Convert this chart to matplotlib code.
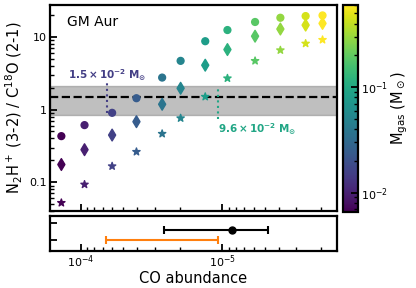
import numpy as np
import matplotlib
matplotlib.use("Agg")
import matplotlib.pyplot as plt
from matplotlib.colors import LogNorm
from matplotlib.ticker import FuncFormatter, LogLocator, NullFormatter

# model grid: CO abundance and gas mass for each column
co_abund = [1.37e-4, 9.4e-5, 6.0e-5, 4.04e-5, 2.66e-5, 1.97e-5,
            1.32e-5, 9.2e-6, 5.87e-6, 3.89e-6, 2.58e-6, 1.96e-6]
m_gas = [0.0066, 0.0098, 0.0159, 0.0241, 0.0378, 0.0519,
         0.0796, 0.117, 0.188, 0.291, 0.452, 0.603]

# line ratio N2H+ (3-2) / C18O (2-1) for the three model sets
ratio_circle = [0.43, 0.61, 0.90, 1.43, 2.75, 4.67, 8.7, 12.4, 16.0, 18.3, 19.3, 19.7]
ratio_diamond = [0.175, 0.28, 0.445, 0.68, 1.18, 1.96, 4.07, 6.68, 10.2, 12.8, 14.5, 15.3]
ratio_star = [0.052, 0.093, 0.166, 0.262, 0.464, 0.76, 1.50, 2.69, 4.67, 6.55, 8.09, 9.1]

# observed ratio and range
obs_ratio = 1.47
obs_lo, obs_hi = 0.85, 2.11

# mass where models meet the observation
m_low, x_low = 0.015, 6.55e-5
m_high, x_high = 0.096, 1.08e-5

# bottom panel: abundance constraints
lit_x, lit_lo, lit_hi = 8.6e-6, 4.72e-6, 2.57e-5
fit_lo, fit_hi = 1.07e-5, 6.59e-5

plt.rcParams["font.family"] = "DejaVu Sans"

fig = plt.figure(figsize=(4.16, 2.88), dpi=100)
ax = fig.add_axes([0.120, 0.267, 0.690, 0.716])
ax2 = fig.add_axes([0.120, 0.1295, 0.690, 0.1205])
cax = fig.add_axes([0.8245, 0.265, 0.036, 0.718])

norm = LogNorm(vmin=min(m_gas), vmax=max(m_gas))
cmap = plt.get_cmap("viridis")

ax.axhspan(obs_lo, obs_hi, color="gray", alpha=0.5, lw=1)
ax.axhline(obs_ratio, color="k", ls="--", lw=1.6)

sc = ax.scatter(co_abund, ratio_circle, c=m_gas, cmap=cmap, norm=norm, marker="o", s=24, zorder=3)
ax.scatter(co_abund, ratio_diamond, c=m_gas, cmap=cmap, norm=norm, marker="d", s=36, zorder=3)
ax.scatter(co_abund, ratio_star, c=m_gas, cmap=cmap, norm=norm, marker="*", s=30, zorder=3)

c1 = cmap(norm(m_low))
c2 = cmap(norm(m_high))
ax.plot([x_low, x_low], [0.90, 2.47], ls=":", color=c1, lw=1.5)
ax.plot([x_high, x_high], [0.73, 2.04], ls=":", color=c2, lw=1.5)
ax.text(x_low, 2.95, r"$\mathbf{1.5\times10^{-2}\ M_{\odot}}$", color=c1,
        fontsize=7.5, ha="center", va="center")
ax.text(x_high, 0.54, r"$\mathbf{9.6\times10^{-2}\ M_{\odot}}$", color=c2,
        fontsize=7.5, ha="left", va="center")
ax.text(0.059, 0.917, "GM Aur", transform=ax.transAxes, fontsize=10, ha="left", va="center")

xlim = (1.65e-4, 1.55e-6)
ax.set_xscale("log")
ax.set_yscale("log")
ax.set_xlim(xlim)
ax.set_ylim(0.04, 27.5)
ax.yaxis.set_major_formatter(FuncFormatter(lambda v, p: "{:g}".format(v)))
ax.xaxis.set_major_formatter(NullFormatter())
ax.xaxis.set_minor_formatter(NullFormatter())
ax.set_ylabel(r"N$_2$H$^+$ (3-2) / C$^{18}$O (2-1)", fontsize=10.5, labelpad=3)

# bottom panel
ax2.errorbar([lit_x], [0.6], xerr=[[lit_x - lit_lo], [lit_hi - lit_x]], fmt="o", color="k",
             ms=5, lw=1.5, capsize=3, capthick=1.5)
ax2.errorbar([(fit_lo + fit_hi) / 2], [0.0], xerr=[[(fit_hi - fit_lo) / 2], [(fit_hi - fit_lo) / 2]],
             fmt="none", ecolor="tab:orange", lw=1.5, capsize=3, capthick=1.5)
ax2.set_xscale("log")
ax2.set_xlim(xlim)
ax2.set_ylim(-0.6, 1.4)
ax2.set_yticks([0, 1])
ax2.set_yticklabels([])
ax2.set_xlabel("CO abundance", fontsize=10.5, labelpad=1)

for a in (ax, ax2):
    for s in a.spines.values():
        s.set_linewidth(1.6)
    a.tick_params(which="both", direction="in", labelsize=8, pad=2)
    a.tick_params(which="major", length=5, width=1.3)
    a.tick_params(which="minor", length=3, width=1.0)
ax.xaxis.set_minor_locator(LogLocator(base=10, subs=np.arange(2, 10)))
ax2.xaxis.set_minor_locator(LogLocator(base=10, subs=np.arange(2, 10)))

cb = fig.colorbar(sc, cax=cax)
cb.outline.set_linewidth(1.6)
cb.set_label(r"M$_{\rm gas}$ (M$_\odot$)", fontsize=10.5, labelpad=1)
cax.tick_params(which="both", direction="in", labelsize=8, pad=2)
cax.tick_params(which="major", length=5, width=1.3)
cax.tick_params(which="minor", length=3, width=1.0)

fig.savefig("out.png", dpi=100)
